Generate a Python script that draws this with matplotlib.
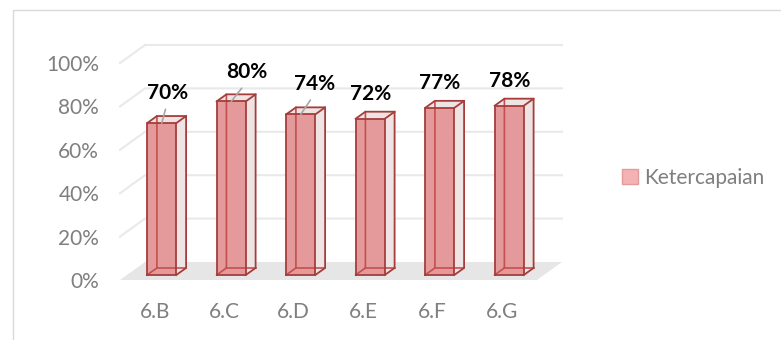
import matplotlib.pyplot as plt
from matplotlib.patches import Polygon, Patch, Rectangle

plt.rcParams['font.family'] = ['Lato', 'DejaVu Sans']

# data
kelas = ['6.B', '6.C', '6.D', '6.E', '6.F', '6.G']
ketercapaian = [0.70, 0.80, 0.74, 0.72, 0.77, 0.78]
y_ticks = [0, 0.2, 0.4, 0.6, 0.8, 1.0]
seri = 'Ketercapaian'

# fake 3D geometry (data units per full depth of the floor)
DX, DY = 0.36, 0.083
D_FRONT, D_BACK = 0.28, 0.67
W = 0.42

# data label offsets in points (dx, dy, leader line?)
label_off = [(4, 22, True), (11, 21, True), (10, 22, True),
             (0, 18, False), (0, 18, False), (0, 18, False)]

FACE = '#e49a9a'
SIDE = '#efe4e4'
EDGE = '#a53d3c'
GRID = '#e9e9e9'
TXT = '#7f7f7f'

fig = plt.figure(figsize=(7.81, 3.40), dpi=100)
ax = fig.add_axes([120 / 781, 60 / 340, 442 / 781, 235 / 340])
n = len(kelas)
ax.set_xlim(-0.5, n - 0.5 + DX)
ax.set_ylim(0, 1 + DY)
for s in ax.spines.values():
    s.set_visible(False)

# floor
ax.add_patch(Polygon([(-0.5, 0), (-0.5 + DX, DY), (n - 0.5 + DX, DY), (n - 0.5, 0)],
                     closed=True, facecolor='#e6e6e6', edgecolor='none', zorder=1))
# gridlines: left wall diagonal + back wall
for t in y_ticks[1:]:
    ax.plot([-0.5, -0.5 + DX, n - 0.5 + DX], [t, t + DY, t + DY],
            color=GRID, lw=1.5, zorder=1, clip_on=False)

ax.set_yticks(y_ticks)
ax.set_yticklabels([f'{int(round(t * 100))}%' for t in y_ticks])
ax.set_xticks(range(n))
ax.set_xticklabels(kelas)
ax.tick_params(axis='y', length=0, pad=15, labelsize=15, labelcolor=TXT)
ax.tick_params(axis='x', length=0, pad=16, labelsize=15, labelcolor=TXT)

ox, oy = (D_BACK - D_FRONT) * DX, (D_BACK - D_FRONT) * DY
for i, v in enumerate(ketercapaian):
    x0 = i - W / 2 + D_FRONT * DX
    x1 = x0 + W
    y0 = D_FRONT * DY
    y1 = v + D_FRONT * DY
    # side and top faces
    ax.add_patch(Polygon([(x1, y0), (x1 + ox, y0 + oy), (x1 + ox, y1 + oy), (x1, y1)],
                         facecolor=SIDE, edgecolor='none', zorder=2))
    ax.add_patch(Polygon([(x0, y1), (x0 + ox, y1 + oy), (x1 + ox, y1 + oy), (x1, y1)],
                         facecolor=SIDE, edgecolor='none', zorder=2))
    # front face
    ax.add_patch(Polygon([(x0, y0), (x1, y0), (x1, y1), (x0, y1)],
                         facecolor=FACE, edgecolor='none', zorder=3))
    # hidden edges seen through
    ax.plot([x0, x0 + ox, x0 + ox], [y0, y0 + oy, y1 + oy], color='#c2504e', lw=1.2, zorder=4)
    ax.plot([x0 + ox, x1 + ox], [y0 + oy, y0 + oy], color='#c2504e', lw=1.2, zorder=4)
    # visible edges
    ax.plot([x0, x1, x1, x0, x0], [y0, y0, y1, y1, y0], color=EDGE, lw=1.3, zorder=5)
    ax.plot([x1, x1 + ox, x1 + ox, x1], [y0, y0 + oy, y1 + oy, y1], color=EDGE, lw=1.3, zorder=5)
    ax.plot([x0, x0 + ox, x1 + ox], [y1, y1 + oy, y1 + oy], color=EDGE, lw=1.3, zorder=5)

    dx, dy, leader = label_off[i]
    arrow = dict(arrowstyle='-', color='#a6a6a6', lw=1.2, relpos=(0.5, 0),
                 shrinkA=3, shrinkB=0) if leader else None
    ax.annotate(f'{int(round(v * 100))}%', xy=((x0 + x1) / 2, y1), xytext=(dx, dy),
                textcoords='offset points', ha='center', va='center',
                fontsize=15, fontweight='bold', color='black',
                arrowprops=arrow, zorder=6, annotation_clip=False)

# chart border
fig.patches.append(Rectangle((13 / 781, -0.05), 1.1, 1.05 - 10 / 340, transform=fig.transFigure,
                             fill=False, edgecolor='#d9d9d9', lw=1))

fig.legend(handles=[Patch(facecolor='#f4b3b3', edgecolor='#e29a9a', label=seri)],
           loc='center left', bbox_to_anchor=(614 / 781, 1 - 178 / 340), frameon=False,
           fontsize=15, handlelength=0.75, handleheight=0.75, handletextpad=0.3,
           labelcolor=TXT, borderaxespad=0)

fig.savefig('out.png', dpi=100)
